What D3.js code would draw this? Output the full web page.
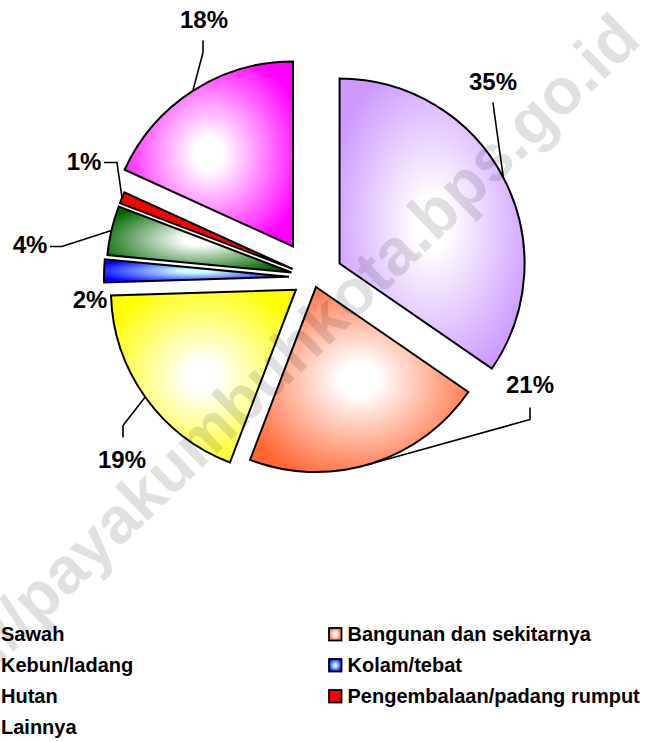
<!DOCTYPE html>
<html><head><meta charset="utf-8">
<script src="https://cdn.jsdelivr.net/npm/d3@7"></script>
<style>
body{margin:0;background:#fff;overflow:hidden}
svg{display:block}
text{font-family:"Liberation Sans",Arial,sans-serif;font-weight:bold}
</style>
</head><body>
<svg id="chart" width="647" height="742"></svg>
<script>
// ---- data ----
const categories = ["Sawah","Bangunan dan sekitarnya","Kebun/ladang","Kolam/tebat","Hutan","Pengembalaan/padang rumput","Lainnya"];
const shares = [34.6, 21.2, 18.7, 2.0, 4.3, 1.0, 18.2];
const percentLabels = ["35%","21%","19%","2%","4%","1%","18%"];

// ---- style ----
const colors = ["#CC99FF","#FF6633","#FFFF00","#0000FF","#006600","#FF0000","#FF00FF"];
const centerColors = ["#FFFFFF","#FFFFFF","#FFFFFF","#CCFFFF","#FFFFFF","#FF0000","#FFFFFF"];
const explode = [30, 10, 21, 24, 22, 22, 37];
const labelOffsets = [[180,-196],[217,107],[-191,182],[-223,22],[-283,-33],[-229,-116],[-109,-258]];
const leaderStart = [[180,-175],[217,130],[-190,160],null,[-263,-31],[-209,-115],[-110,-237]];
const leaderElbow = [[181,-167],[217,142],[-190,148],null,[-251,-31],[-196,-115],[-110,-225]];

const W = 647, H = 742;
const cx = 313, cy = 277.5, R = 185;

const svg = d3.select("#chart");
const defs = svg.append("defs");

colors.forEach((c, i) => {
  const g = defs.append("radialGradient").attr("id", "grad" + i)
    .attr("cx", "50%").attr("cy", "50%").attr("r", "58%");
  g.append("stop").attr("offset", "0%").attr("stop-color", centerColors[i]);
  g.append("stop").attr("offset", "15%").attr("stop-color", centerColors[i]);
  g.append("stop").attr("offset", "100%").attr("stop-color", c);
});

const pie = d3.pie().sort(null).value(d => d).startAngle(0).endAngle(2 * Math.PI);
const arcs = pie(shares);
const arc = d3.arc().innerRadius(0).outerRadius(R);

const pieG = svg.append("g").attr("transform", `translate(${cx},${cy})`);

const slices = pieG.selectAll("g.slice").data(arcs).join("g")
  .attr("class", "slice")
  .attr("transform", (d, i) => {
    const m = (d.startAngle + d.endAngle) / 2;
    return `translate(${explode[i] * Math.sin(m)},${-explode[i] * Math.cos(m)})`;
  });

slices.append("path")
  .attr("d", arc)
  .attr("fill", (d, i) => `url(#grad${i})`)
  .attr("stroke", "#000")
  .attr("stroke-width", 2)
  .attr("stroke-linejoin", "miter");

// leader lines
arcs.forEach((d, i) => {
  if (!leaderStart[i]) return;
  const m = (d.startAngle + d.endAngle) / 2;
  const ex = (explode[i] + R) * Math.sin(m);
  const ey = -(explode[i] + R) * Math.cos(m);
  pieG.append("path")
    .attr("d", d3.line()([leaderStart[i], leaderElbow[i], [ex, ey]]))
    .attr("fill", "none").attr("stroke", "#000").attr("stroke-width", 1.6);
});

// percentage labels
pieG.selectAll("text.pct").data(arcs).join("text")
  .attr("class", "pct")
  .attr("x", (d, i) => labelOffsets[i][0])
  .attr("y", (d, i) => labelOffsets[i][1])
  .attr("text-anchor", "middle")
  .attr("dominant-baseline", "central")
  .attr("font-size", 24)
  .attr("fill", "#000")
  .text((d, i) => percentLabels[i]);

// legend
const legend = svg.append("g");
const colX = [1, 347.5];
const rowBase = [641, 672, 703, 734];
categories.forEach((name, i) => {
  const col = i % 2, row = Math.floor(i / 2);
  const tx = colX[col], by = rowBase[row];
  legend.append("rect")
    .attr("x", tx - 18.5).attr("y", by - 13)
    .attr("width", 12.5).attr("height", 12.5)
    .attr("fill", `url(#grad${i})`)
    .attr("stroke", "#000").attr("stroke-width", 1.8);
  legend.append("text")
    .attr("x", tx).attr("y", by)
    .attr("font-size", 20)
    .attr("fill", "#000")
    .text(name);
});

// watermark
svg.append("text")
  .attr("transform", "translate(-92,752) rotate(-44)")
  .attr("font-size", 65)
  .attr("fill", "#000")
  .attr("fill-opacity", 0.12)
  .text("http://payakumbuhkota.bps.go.id");
</script>
</body></html>
